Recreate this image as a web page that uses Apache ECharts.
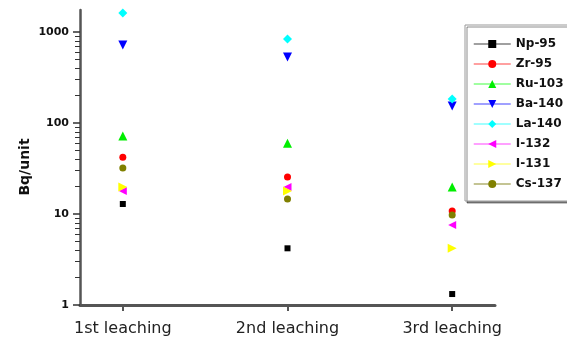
<!DOCTYPE html>
<html><head><meta charset="utf-8">
<script src="https://cdn.jsdelivr.net/npm/echarts@6/dist/echarts.min.js"></script>
<style>html,body{margin:0;padding:0;background:#fff}#c{width:567px;height:350px}</style>
</head><body><div id="c"></div>
<script>
const categories = ['1st leaching', '2nd leaching', '3rd leaching'];
const seriesNames = ['Np-95', 'Zr-95', 'Ru-103', 'Ba-140', 'La-140', 'I-132', 'I-131', 'Cs-137'];
const np95  = [12.9, 4.2, 1.32];
const zr95  = [42, 25.5, 10.8];
const ru103 = [72, 60, 19.8];
const ba140 = [720, 531, 154];
const la140 = [1620, 838, 184];
const i132  = [17.9, 19.8, 7.6];
const i131  = [19.8, 17.9, 4.2];
const cs137 = [32, 14.6, 9.75];
const yMajorTicks = [1, 10, 100, 1000];
const yMinorTicks = [2,3,4,5,6,7,8,9,20,30,40,50,60,70,80,90,200,300,400,500,600,700,800,900];

const values = [np95, zr95, ru103, ba140, la140, i132, i131, cs137];
const colors = ['#000000', '#ff0000', '#00ee00', '#0000ff', '#00ffff', '#ff00ff', '#ffff00', '#808000'];
const legendLine = ['#808080', '#ff8080', '#80ff80', '#8080ff', '#80ffff', '#ff80ff', '#ffff80', '#b0b070'];
const symbols = ['rect', 'circle', 'triangle', 'triangle', 'diamond', 'triangle', 'triangle', 'circle'];
const rotates = [0, 0, 0, 180, 0, 90, -90, 0];
const sizes = [6, 7, 9, 9, 9, 8, 9, 7];

const chart = echarts.init(document.getElementById('c'), null, {renderer: 'canvas'});
const series = seriesNames.map((n, i) => ({
  name: n,
  type: 'line',
  data: values[i].map((v, j) => [j, v]),
  symbol: symbols[i],
  symbolRotate: rotates[i],
  symbolSize: sizes[i],
  showSymbol: true,
  itemStyle: {color: colors[i]},
  lineStyle: {opacity: 0, width: 0},
  emphasis: {disabled: true},
  animation: false,
  z: 3
}));

chart.setOption({
  animation: false,
  grid: {left: 80, right: 72, top: 10, bottom: 45},
  legend: {
    left: 465, top: 25, orient: 'vertical',
    padding: [13, 40, 11, 8],
    itemWidth: 37, itemHeight: 10, itemGap: 8,
    backgroundColor: '#fff',
    borderColor: '#999', borderWidth: 1,
    shadowColor: 'rgba(0,0,0,0.45)', shadowOffsetX: 2, shadowOffsetY: 2, shadowBlur: 0,
    textStyle: {fontFamily: 'DejaVu Sans', fontWeight: 'bold', fontSize: 12, color: '#111'},
    data: seriesNames.map((n, i) => ({name: n, lineStyle: {color: legendLine[i], width: 1.5, opacity: 1}}))
  },
  xAxis: {
    type: 'value', min: -0.26, max: 2.26,
    axisLine: {onZero: false, lineStyle: {color: '#555', width: 3}},
    axisTick: {customValues: [0, 1, 2], length: 6, lineStyle: {color: '#555', width: 2}},
    axisLabel: {customValues: [0, 1, 2], formatter: v => categories[Math.round(v)],
      fontFamily: 'DejaVu Sans', fontSize: 16, color: '#222', margin: 16},
    splitLine: {show: false}
  },
  yAxis: [{
    type: 'log', min: 1, max: 1750, logBase: 10,
    axisLine: {show: true, onZero: false, lineStyle: {color: '#555', width: 2.5}},
    axisTick: {show: true, customValues: yMajorTicks, length: 7, lineStyle: {color: '#333', width: 1.5}},
    axisLabel: {customValues: yMajorTicks, formatter: v => String(v),
      fontFamily: 'DejaVu Sans', fontWeight: 'bold', fontSize: 11, color: '#111', margin: 11},
    splitLine: {show: false}
  }, {
    type: 'log', min: 1, max: 1750, logBase: 10, position: 'left',
    axisLine: {show: false, onZero: false},
    axisTick: {show: true, customValues: yMinorTicks, length: 5, lineStyle: {color: '#333', width: 1}},
    axisLabel: {show: false},
    splitLine: {show: false}
  }],
  graphic: [{
    type: 'text', x: 25, y: 167, rotation: Math.PI / 2,
    style: {text: 'Bq/unit', fontFamily: 'DejaVu Sans', fontWeight: 'bold', fontSize: 14,
      fill: '#111', align: 'center', verticalAlign: 'middle'}
  }],
  series: series
});
</script></body></html>
